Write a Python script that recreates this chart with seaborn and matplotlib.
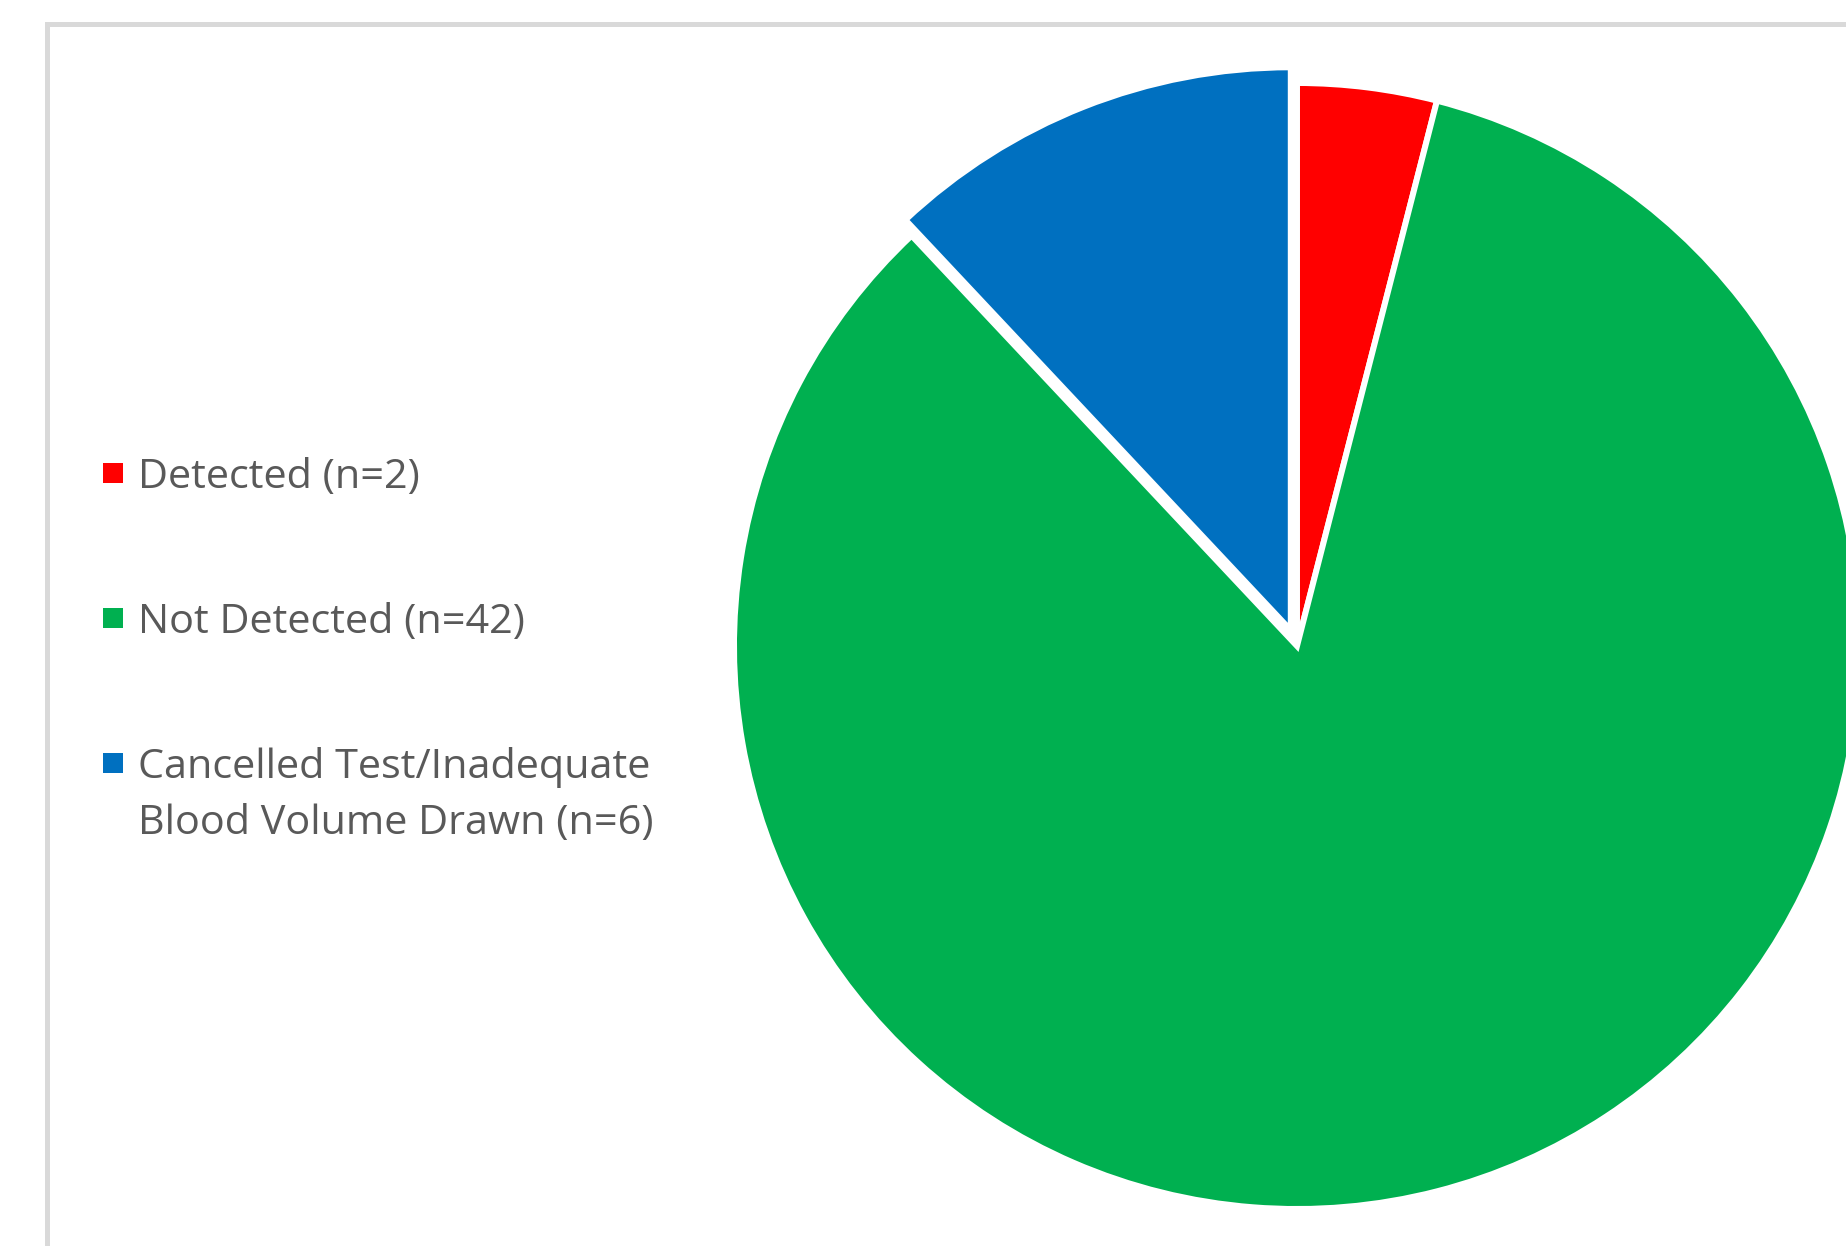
import matplotlib
matplotlib.use('Agg')
import matplotlib.pyplot as plt
import matplotlib.patches as mpatches
from matplotlib.legend_handler import HandlerPatch
from functools import partial
import seaborn as sns

# Data
labels = ['Detected (n=2)', 'Not Detected (n=42)',
          'Cancelled Test/Inadequate\nBlood Volume Drawn (n=6)']
counts = [2, 42, 6]
colors = ['#FF0000', '#00B050', '#0070C0']
explode = [0, 0, 0.03]

sns.set_theme(style='white')
plt.rcParams['font.family'] = ['Open Sans', 'DejaVu Sans']

W, H, DPI = 1846, 1246, 100
fig = plt.figure(figsize=(W / DPI, H / DPI), dpi=DPI)
fig.patch.set_facecolor('white')
ax = fig.add_axes([0, 0, 1, 1])

wedges, _ = ax.pie(counts, colors=colors, explode=explode, startangle=90,
                   counterclock=False, radius=1,
                   wedgeprops=dict(edgecolor='white', linewidth=4.3))

# pie centre / radius in pixels -> axis limits (1 data unit = r px)
cx, cy, r = 1297, 646, 563
ax.set_aspect('auto')
ax.set_xlim(-cx / r, (W - cx) / r)
ax.set_ylim(-(H - cy) / r, cy / r)
ax.axis('off')

# chart-area border (cropped at right and bottom)
fig.add_artist(mpatches.Rectangle((46.5 / W, -0.1), 1.2, 1.1 - 24.5 / H,
                                  transform=fig.transFigure, fill=False,
                                  edgecolor='#d9d9d9', linewidth=3.6))

# legend with small squares aligned to the first text line
F = 29.8


def square(legend, orig_handle, xdescent, ydescent, width, height, fontsize, lift=0.0):
    s = 0.485 * fontsize
    return mpatches.Rectangle((0, 0.36 * fontsize - s / 2 + lift * fontsize), s, s)


handles = [mpatches.Patch(facecolor=w.get_facecolor(), edgecolor='none') for w in wedges]
hmap = {handles[0]: HandlerPatch(patch_func=square),
        handles[1]: HandlerPatch(patch_func=square),
        handles[2]: HandlerPatch(patch_func=partial(square, lift=0.80))}

leg = ax.legend(handles, labels, handler_map=hmap, loc='upper left',
                bbox_to_anchor=(103 / W, 1 - 457 / H),
                bbox_transform=fig.transFigure, frameon=False,
                fontsize=F, labelcolor='#595959', borderpad=0,
                borderaxespad=0, handlelength=0.485, handleheight=0.7,
                handletextpad=0.35, labelspacing=2.53)
for t in leg.get_texts():
    t.set_linespacing(1.49)

fig.savefig('out.png', dpi=DPI, facecolor='white')
